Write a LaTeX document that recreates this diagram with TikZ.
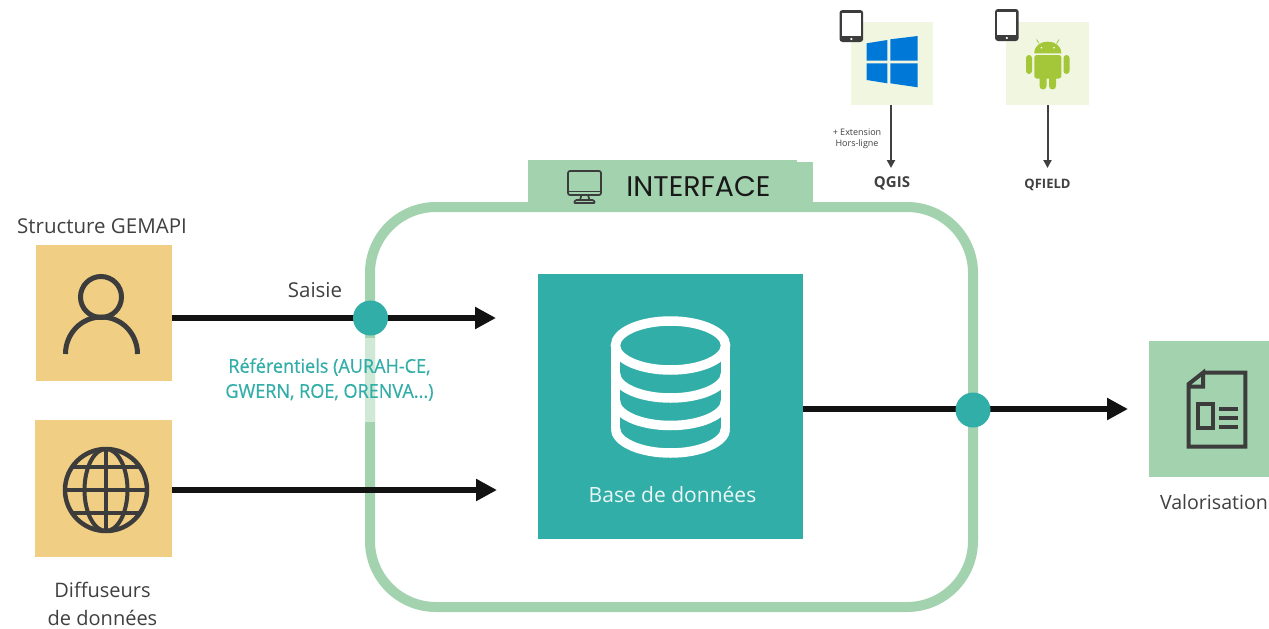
\documentclass[tikz,border=0pt]{standalone}
\usepackage{fontspec}
\setmainfont{Open Sans}
\newfontfamily\popfont{Poppins}
\usetikzlibrary{arrows.meta}
\definecolor{yel}{HTML}{F0CF85}
\definecolor{grn}{HTML}{A3D2AE}
\definecolor{pale}{HTML}{D0E8D6}
\definecolor{teal2}{HTML}{32AEA8}
\definecolor{lightb}{HTML}{F1F6E1}
\definecolor{ink}{HTML}{404040}
\definecolor{icon}{HTML}{3C3C3C}
\definecolor{winb}{HTML}{0078D7}
\definecolor{andr}{HTML}{A4C639}
\tikzset{
  sq/.style={rectangle,inner sep=0pt,outer sep=0pt,anchor=north west},
  lbl/.style={inner sep=0pt,outer sep=0pt,text=ink,font=\fontsize{20.5}{20.5}\selectfont,align=center},
  flow/.style={draw=black!93,line width=6.5pt,-{Triangle[length=21pt,width=21pt]}},
  dot/.style={circle,fill=teal2,draw=none,minimum size=35pt,inner sep=0pt,outer sep=0pt},
  thin arrow/.style={draw=ink,line width=2pt,-{Triangle[length=8pt,width=8pt]}},
  tablet/.style={fill=icon,draw=none,rounded corners=3pt},
  icn/.style={draw=icon,line width=5pt}
}
\begin{document}
\begin{tikzpicture}[x=1pt,y=-1pt]
\useasboundingbox (0,0) rectangle (1269,629);
\fill[white] (0,0) rectangle (1269,629);
% interface frame
\node[sq,fill=grn,minimum width=269pt,minimum height=46pt] (tab) at (528,160) {};
\fill[grn] (797,162) rectangle (813,206);
\draw[grn,line width=10pt,rounded corners=66pt] (370,207) rectangle (973,607);
\fill[pale] (365,338) rectangle (375,422);
% boxes
\node[sq,fill=yel,minimum width=136pt,minimum height=136pt] (user) at (36,245) {};
\node[sq,fill=yel,minimum width=137pt,minimum height=137pt] (web) at (35,420) {};
\node[sq,fill=teal2,minimum width=265pt,minimum height=265pt] (db) at (538,274) {};
\node[sq,fill=grn,minimum width=120pt,minimum height=136pt] (val) at (1149,341) {};
\node[sq,fill=lightb,minimum width=82pt,minimum height=83pt] (win) at (851,22) {};
\node[sq,fill=lightb,minimum width=83pt,minimum height=83pt] (and) at (1006,22) {};
% connectors
\coordinate (e1) at (496,318);
\coordinate (e2) at (497,490);
\coordinate (e3) at (1128,409);
\coordinate (e4) at (891,168);
\coordinate (e5) at (1047.5,168);
\draw[flow] (user.east |- e1) -- (e1);
\draw[flow] (web.east |- e2) -- (e2);
\draw[flow] (db.east |- e3) -- (e3);
\draw[thin arrow] (win.south -| e4) -- (e4);
\draw[thin arrow] (and.south -| e5) -- (e5);
\node[dot] (d1) at (370.5,318) {};
\node[dot] (d2) at (973,410) {};
% labels
\node[lbl] (t1) at (102,226) {Structure GEMAPI};
\node[lbl] (t2) at (315,290) {Saisie};
\node[lbl,text=teal2,font=\fontsize{19}{25}\selectfont\addfontfeature{FakeStretch=0.95,FakeBold=0.4}] (t3) at (329.5,379.5) {Référentiels (AURAH-CE,\\GWERN, ROE, ORENVA...)};
\node[lbl,font=\fontsize{20}{28}\selectfont] (t4) at (102.5,603.5) {Diffuseurs\\de données};
\node[lbl,text=white!90!teal2,font=\fontsize{21}{21}\selectfont] (t5) at (672.5,494.5) {Base de données};
\node[lbl,anchor=west,font=\fontsize{19.6}{19.6}\selectfont] (t6) at (1160,502.5) {Valorisation};
\node[inner sep=0pt,text=black!90,font=\popfont\fontsize{28.4}{28.4}\selectfont] (t7) at (698.5,187) {INTERFACE};
\node[lbl,font=\bfseries\fontsize{15}{15}\selectfont] (t8) at (892,183) {QGIS};
\node[lbl,font=\bfseries\fontsize{13}{13}\selectfont] (t9) at (1047.5,185) {QFIELD};
\node[lbl,font=\fontsize{9}{11}\selectfont] (t10) at (857,138.5) {+ Extension\\Hors-ligne};
% user icon
\draw[icn] (101,297) circle (20.5pt);
\draw[icn] (65.5,354) .. controls (65.5,333.5) and (81.5,317) .. (101.5,317) .. controls (121.5,317) and (137.5,333.5) .. (137.5,354);
% globe icon
\draw[icn,line width=4.5pt] (106,490) circle (41pt);
\begin{scope}
\clip (106,490) circle (41pt);
\draw[icn,line width=4pt] (106,490) circle [x radius=21.5pt,y radius=41pt];
\draw[icn,line width=4pt] (106,449) -- (106,531) (65,466.7) -- (147,466.7) (65,490) -- (147,490) (65,513.3) -- (147,513.3);
\end{scope}
% database icon
\begin{scope}[draw=white,line width=9.5pt]
\draw (670.5,345.5) circle [x radius=55pt,y radius=24.5pt];
\draw (615.5,345.5) -- (615.5,428.5) (725.5,345.5) -- (725.5,428.5);
\foreach \cy in {373.5,401,428.5}
  \draw (615.5,\cy) .. controls (615.5,\cy+13.5) and (640,\cy+24.5) .. (670.5,\cy+24.5) .. controls (701,\cy+24.5) and (725.5,\cy+13.5) .. (725.5,\cy);
\end{scope}
% document icon
\begin{scope}[draw=icon,line width=4pt,miter limit=4]
\draw (1203,372.7) -- (1245.3,372.7) -- (1245.3,446.7) -- (1188.7,446.7) -- (1188.7,384) -- (1203,372.7) -- (1203,386.7) -- (1188.7,386.7);
\draw (1197.5,404) rectangle (1212.5,428);
\draw (1219.3,409) -- (1238.3,409) (1219.3,418.3) -- (1238.3,418.3) (1219.3,427.3) -- (1238.3,427.3);
\end{scope}
% monitor icon
\begin{scope}[draw=icon,line width=1.7pt]
\draw[rounded corners=2pt] (568,171) rectangle (601,195);
\draw (568,191.5) -- (601,191.5);
\draw (581.5,195) -- (580,200) (588,195) -- (589.5,200);
\draw[rounded corners=1pt] (574,203) -- (575.5,200) -- (593.5,200) -- (595,203) -- cycle;
\end{scope}
% tablets
\foreach \tx/\ty in {839.5/10,995/9}{
  \fill[tablet] (\tx,\ty) rectangle ++(23.7,32);
  \fill[white] (\tx+2.4,\ty+2.6) rectangle ++(18.9,23.6);
  \fill[white] (\tx+11.85,\ty+29) circle (1.2pt);
}
% windows logo
\fill[winb] (866.7,43.3) -- (887.3,40) -- (887.3,60.7) -- (866.7,60.7) -- cycle;
\fill[winb] (890.3,39.3) -- (917.7,36) -- (917.7,60.7) -- (890.3,60.7) -- cycle;
\fill[winb] (866.7,63.3) -- (887.3,63.3) -- (887.3,83.3) -- (866.7,80) -- cycle;
\fill[winb] (890.3,63.3) -- (917.7,63.3) -- (917.7,87.3) -- (890.3,83.3) -- cycle;
% android logo
\fill[andr] (1034.3,53.3) .. controls (1034.3,46) and (1040,41.7) .. (1047.7,41.7) .. controls (1055.4,41.7) and (1061.3,46) .. (1061.3,53.3) -- cycle;
\draw[andr,line width=.8pt] (1039,43.5) -- (1036.5,39.5) (1056.5,43.5) -- (1059,39.5);
\fill[white] (1041.5,47.7) circle (.9pt) (1054,47.7) circle (.9pt);
\fill[andr,rounded corners=2.5pt] (1034.3,55) -- (1061.3,55) -- (1061.3,78.5) -- (1034.3,78.5) -- cycle;
\fill[andr,rounded corners=3pt] (1026,55) rectangle (1032,74);
\fill[andr,rounded corners=3pt] (1063.5,55) rectangle (1069.5,74);
\fill[andr,rounded corners=3.5pt] (1039.5,72) rectangle (1046.5,89.5);
\fill[andr,rounded corners=3.5pt] (1049,72) rectangle (1056,89.5);
\end{tikzpicture}
\end{document}
